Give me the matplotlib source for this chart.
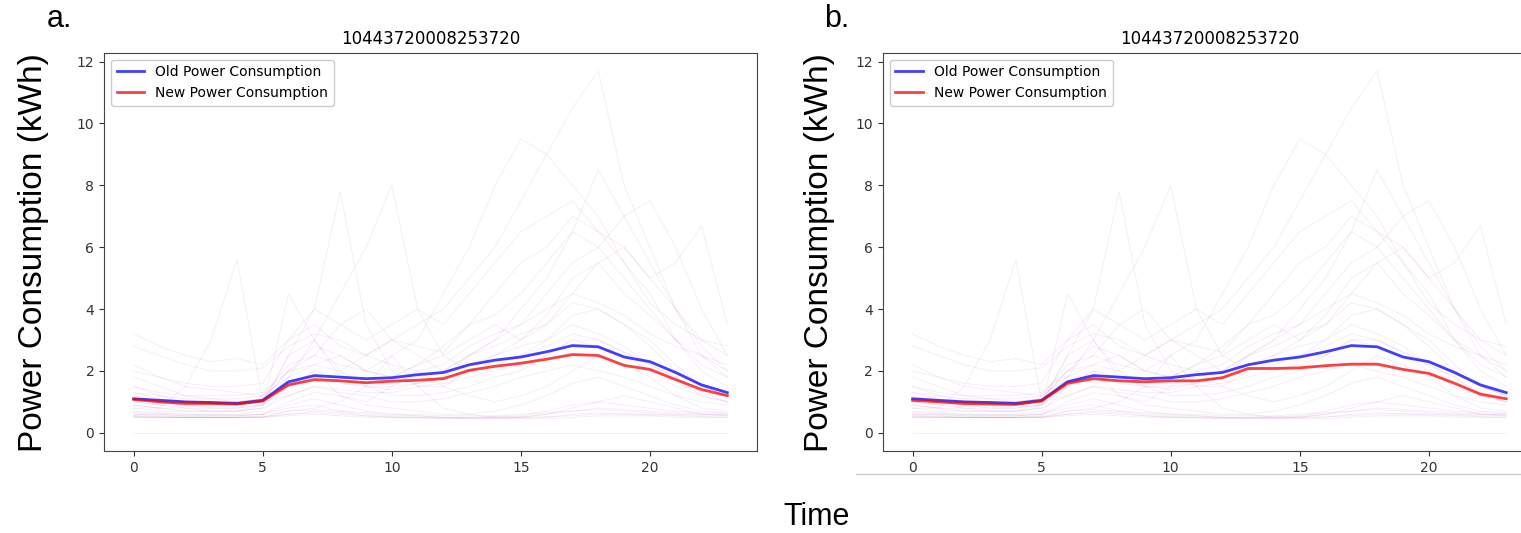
import numpy as np
import matplotlib.pyplot as plt
from matplotlib.lines import Line2D

# hours of the day
hours = np.arange(24)

# average profiles
old_avg = [1.1, 1.05, 1.0, 0.98, 0.95, 1.05, 1.65, 1.85, 1.8, 1.75, 1.78, 1.88,
           1.95, 2.2, 2.35, 2.45, 2.62, 2.82, 2.78, 2.45, 2.3, 1.95, 1.55, 1.3]
new_avg_a = [1.08, 1.0, 0.95, 0.95, 0.93, 1.03, 1.55, 1.72, 1.68, 1.62, 1.67, 1.7,
             1.75, 2.02, 2.15, 2.25, 2.38, 2.53, 2.5, 2.18, 2.05, 1.72, 1.4, 1.2]
new_avg_b = [1.05, 1.0, 0.95, 0.93, 0.92, 1.03, 1.6, 1.75, 1.68, 1.65, 1.68, 1.68,
             1.78, 2.08, 2.08, 2.1, 2.17, 2.22, 2.22, 2.05, 1.92, 1.6, 1.25, 1.1]

# individual daily profiles (faint background)
daily = [
    [0.55, 0.52, 0.5, 0.5, 0.5, 0.52, 0.6, 0.65, 0.6, 0.55, 0.52, 0.5, 0.48, 0.48, 0.48, 0.5, 0.52, 0.55, 0.6, 0.62, 0.6, 0.58, 0.55, 0.55],
    [0.6, 0.58, 0.55, 0.55, 0.55, 0.6, 0.8, 0.9, 0.7, 0.6, 0.55, 0.55, 0.5, 0.5, 0.5, 0.52, 0.6, 0.7, 0.8, 0.75, 0.7, 0.65, 0.6, 0.6],
    [0.5, 0.5, 0.5, 0.5, 0.5, 0.5, 0.55, 0.6, 0.55, 0.5, 0.5, 0.48, 0.45, 0.45, 0.45, 0.45, 0.45, 0.5, 0.55, 0.55, 0.55, 0.5, 0.5, 0.5],
    [0.65, 0.62, 0.6, 0.58, 0.58, 0.6, 0.9, 1.1, 0.9, 0.7, 0.6, 0.55, 0.5, 0.5, 0.52, 0.55, 0.7, 0.9, 1.0, 0.9, 0.8, 0.7, 0.65, 0.62],
    [0.52, 0.5, 0.5, 0.48, 0.48, 0.5, 0.6, 0.7, 0.65, 0.55, 0.5, 0.5, 0.48, 0.47, 0.47, 0.48, 0.5, 0.6, 0.65, 0.6, 0.58, 0.55, 0.52, 0.5],
    [0.7, 0.65, 0.6, 0.6, 0.6, 0.7, 1.5, 2.0, 1.2, 0.9, 0.8, 0.7, 0.6, 0.6, 0.7, 0.9, 1.2, 1.6, 1.8, 1.5, 1.2, 0.9, 0.7, 0.65],
    [1.2, 1.0, 0.9, 0.9, 0.9, 1.0, 2.5, 3.0, 1.8, 1.5, 1.4, 1.6, 1.8, 2.5, 2.8, 3.2, 3.5, 4.2, 4.0, 3.5, 3.0, 2.2, 1.5, 1.2],
    [2.2, 1.8, 1.5, 1.4, 1.3, 1.2, 1.8, 2.2, 2.5, 2.0, 1.8, 2.2, 2.5, 3.0, 3.5, 3.0, 3.8, 5.0, 5.5, 4.5, 3.8, 3.0, 2.5, 2.0],
    [3.2, 2.8, 2.5, 2.3, 2.4, 2.2, 3.0, 3.5, 2.8, 2.5, 3.0, 2.8, 2.6, 3.5, 4.5, 5.5, 6.0, 7.0, 6.5, 5.5, 4.2, 3.5, 3.0, 2.8],
    [0.8, 0.8, 1.5, 3.0, 5.6, 1.0, 1.2, 1.5, 1.3, 1.2, 1.0, 1.0, 1.1, 1.3, 1.5, 1.8, 2.0, 2.2, 2.0, 1.8, 1.5, 1.2, 1.0, 0.9],
    [0.9, 0.8, 0.8, 0.7, 0.7, 0.9, 2.5, 4.0, 7.8, 3.5, 2.0, 1.5, 1.5, 2.0, 2.5, 2.8, 3.0, 3.5, 3.2, 2.8, 2.2, 1.8, 1.2, 1.0],
    [1.0, 0.9, 0.8, 0.8, 0.8, 0.9, 1.8, 3.0, 4.5, 6.0, 8.0, 4.0, 2.5, 2.0, 2.2, 2.5, 3.0, 3.8, 4.0, 3.5, 2.8, 2.0, 1.5, 1.2],
    [1.5, 1.2, 1.0, 1.0, 1.0, 1.1, 2.0, 2.2, 2.0, 2.5, 3.0, 3.5, 4.0, 5.0, 6.0, 7.5, 9.0, 10.5, 11.7, 8.0, 6.0, 4.0, 2.5, 1.8],
    [1.8, 1.5, 1.2, 1.1, 1.1, 1.2, 2.2, 2.5, 2.2, 2.0, 2.5, 3.0, 4.5, 6.0, 8.0, 9.5, 9.0, 8.0, 7.0, 5.5, 4.5, 3.0, 2.2, 1.8],
    [1.3, 1.1, 1.0, 1.0, 1.0, 1.1, 1.5, 1.8, 1.6, 1.5, 1.5, 1.6, 1.8, 2.2, 2.5, 3.0, 3.5, 4.5, 5.5, 6.0, 5.0, 5.5, 6.7, 3.5],
    [1.0, 0.9, 0.9, 0.8, 0.8, 0.9, 1.5, 2.0, 1.8, 1.7, 1.7, 1.8, 2.0, 2.5, 3.0, 3.5, 4.5, 5.5, 6.0, 7.0, 7.5, 6.0, 4.0, 2.5],
    [0.8, 0.7, 0.7, 0.7, 0.7, 0.8, 4.5, 3.0, 2.0, 1.5, 1.2, 1.2, 1.3, 1.5, 1.8, 2.0, 2.5, 3.0, 2.8, 2.5, 2.0, 1.5, 1.2, 1.0],
    [2.8, 2.5, 2.2, 2.0, 2.0, 2.1, 2.8, 3.2, 3.0, 2.5, 2.2, 2.0, 2.2, 2.8, 3.2, 3.5, 4.0, 4.5, 4.2, 3.8, 3.2, 2.8, 2.5, 2.2],
    [0.6, 0.6, 0.55, 0.55, 0.55, 0.6, 1.0, 1.3, 1.2, 1.0, 1.5, 2.0, 1.5, 1.2, 1.0, 1.2, 1.5, 2.0, 2.5, 2.2, 1.8, 1.2, 0.8, 0.7],
    [1.5, 1.3, 1.2, 1.2, 1.2, 1.3, 2.0, 2.5, 3.5, 4.0, 3.0, 2.5, 2.0, 2.5, 3.0, 4.0, 5.0, 6.5, 8.5, 7.0, 5.5, 4.0, 2.8, 2.0],
    [0.9, 0.8, 0.7, 0.7, 0.7, 0.8, 1.2, 1.5, 1.4, 1.3, 1.3, 1.5, 1.6, 1.8, 2.0, 2.2, 2.5, 3.0, 3.0, 2.6, 2.2, 1.8, 1.3, 1.0],
    [1.1, 1.0, 0.9, 0.9, 0.9, 1.0, 1.6, 1.8, 1.7, 1.6, 1.6, 1.7, 1.8, 2.0, 2.3, 2.5, 2.8, 3.2, 3.0, 2.6, 2.3, 1.9, 1.5, 1.2],
    [0.5, 0.5, 0.5, 0.5, 0.5, 0.5, 0.7, 0.8, 1.0, 1.5, 2.5, 1.5, 0.8, 0.6, 0.5, 0.5, 0.6, 0.8, 1.0, 1.2, 1.0, 0.8, 0.6, 0.55],
    [2.0, 1.8, 1.6, 1.5, 1.5, 1.6, 3.0, 4.0, 3.5, 3.0, 3.5, 4.0, 3.5, 4.5, 5.5, 6.5, 7.0, 7.5, 6.5, 6.0, 5.0, 4.0, 3.0, 2.5],
    [0.0] * 24,
    [0.55, 0.55, 0.5, 0.5, 0.5, 0.55, 0.7, 0.75, 0.7, 0.65, 0.6, 0.6, 0.55, 0.55, 0.55, 0.6, 0.65, 0.7, 0.75, 0.7, 0.65, 0.6, 0.6, 0.58],
    [1.3, 1.2, 1.1, 1.1, 1.0, 1.1, 2.0, 2.8, 2.5, 2.0, 1.8, 2.2, 2.8, 3.5, 3.8, 4.5, 5.5, 6.5, 6.0, 5.0, 4.0, 3.0, 2.0, 1.5],
]

title = "10443720008253720"

fig = plt.figure(figsize=(15.21, 5.33), dpi=100)
ax_a = fig.add_axes([0.0684, 0.154, 0.4293, 0.747])
ax_b = fig.add_axes([0.5805, 0.154, 0.4293, 0.747])


def draw_panel(ax, new_avg):
    for row in daily:
        ax.plot(hours, row, color="blue", alpha=0.035, lw=0.7)
        ax.plot(hours, row, color="red", alpha=0.035, lw=0.7)
    ax.plot(hours, old_avg, color="blue", alpha=0.75, lw=2, label="Old Power Consumption")
    ax.plot(hours, new_avg, color="red", alpha=0.75, lw=2, label="New Power Consumption")
    ax.set_title(title, fontsize=12)
    ax.set_yticks([0, 2, 4, 6, 8, 10, 12])
    ax.set_xticks([0, 5, 10, 15, 20])
    ax.tick_params(labelsize=10, colors="#333333")
    for s in ax.spines.values():
        s.set_color("#444444")
    ax.legend(loc="upper left", fontsize=10, framealpha=1)


draw_panel(ax_a, new_avg_a)
draw_panel(ax_b, new_avg_b)

big = ["Liberation Sans", "DejaVu Sans"]
fig.text(0.022, 0.527, "Power Consumption (kWh)", rotation=90, ha="center", va="center",
         fontsize=24, family=big)
fig.text(0.539, 0.527, "Power Consumption (kWh)", rotation=90, ha="center", va="center",
         fontsize=24, family=big)
fig.text(0.039, 0.965, "a.", ha="center", va="center", fontsize=22, family=big)
fig.text(0.550, 0.965, "b.", ha="center", va="center", fontsize=22, family=big)
fig.text(0.537, 0.03, "Time", ha="center", va="center", fontsize=22, family=big)

# thin grey edge under panel b
fig.add_artist(Line2D([0.563, 1.0], [0.111, 0.111], color="#cccccc", lw=1))

fig.savefig("out.png", dpi=100)
